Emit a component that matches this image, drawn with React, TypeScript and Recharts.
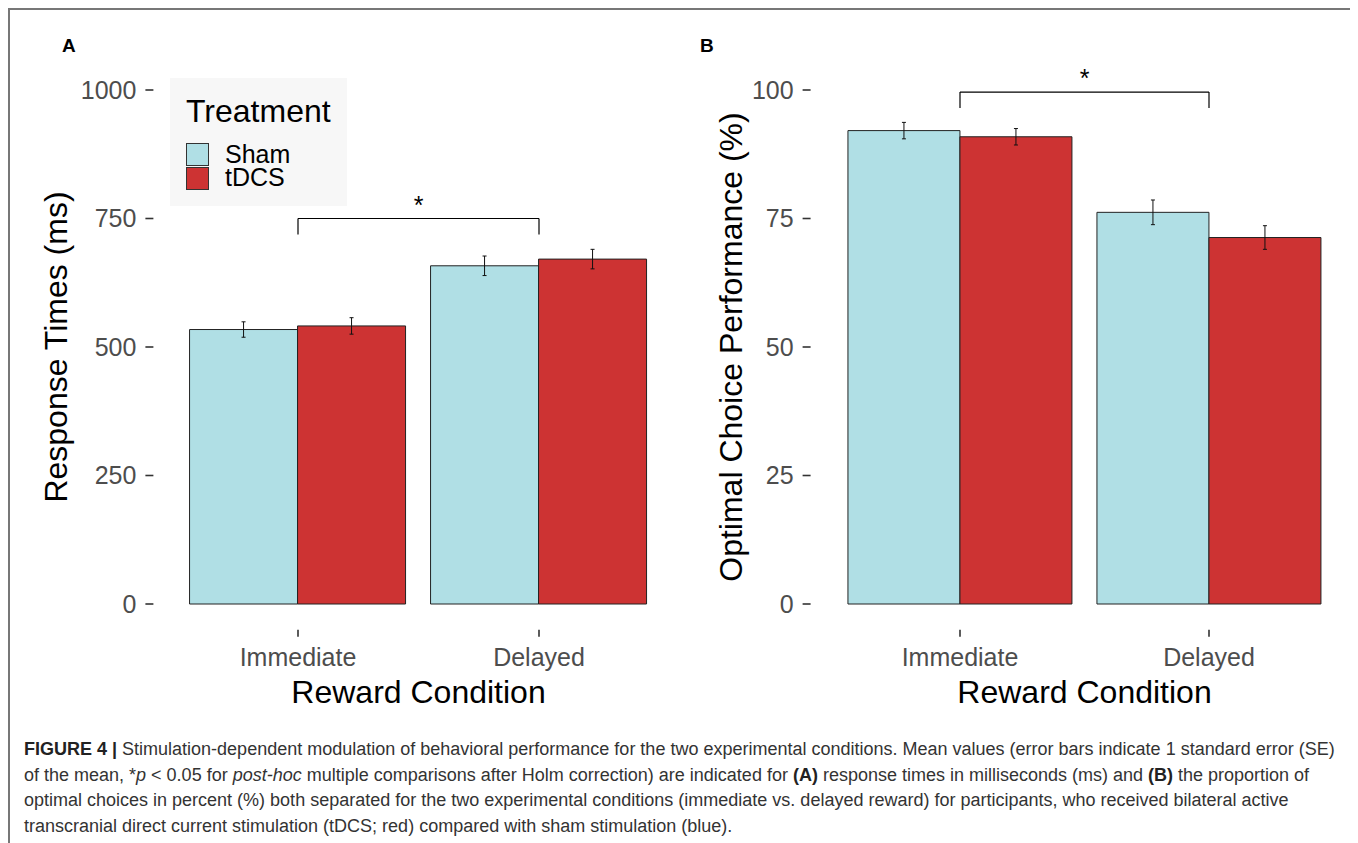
import React from "react";
import { BarChart, Bar, XAxis, YAxis, ErrorBar, ReferenceLine, Legend } from "recharts";

const categories = ["Immediate", "Delayed"];

// panel A: response times (ms)
const rtSham = [534, 658];
const rtShamSe = [15, 19];
const rtTdcs = [541, 671];
const rtTdcsSe = [16, 19];
const rtTicks = [0, 250, 500, 750, 1000];

// panel B: optimal choice performance (%)
const ocSham = [92.1, 76.2];
const ocShamSe = [1.6, 2.4];
const ocTdcs = [90.9, 71.3];
const ocTdcsSe = [1.6, 2.3];
const ocTicks = [0, 25, 50, 75, 100];

const SHAM = "#b0dfe5";
const TDCS = "#cd3333";
const FONT = "'Liberation Sans', Arial, Helvetica, sans-serif";

const rtData = categories.map((c, i) => ({
  condition: c,
  sham: rtSham[i],
  shamSe: rtShamSe[i],
  tdcs: rtTdcs[i],
  tdcsSe: rtTdcsSe[i],
}));

const ocData = categories.map((c, i) => ({
  condition: c,
  sham: ocSham[i],
  shamSe: ocShamSe[i],
  tdcs: ocTdcs[i],
  tdcsSe: ocTdcsSe[i],
}));

const tickStyle = { fill: "#4d4d4d", fontSize: 25, fontFamily: FONT };

const renderLegend = (props: any) => {
  const items = props.payload || [];
  return (
    <div style={{ position: "relative", width: 177, height: 128, background: "#f7f7f7", fontFamily: FONT }}>
      <div style={{ position: "absolute", left: 16, top: 15, fontSize: 32, lineHeight: "36px", color: "#000" }}>
        Treatment
      </div>
      {items.map((it: any, i: number) => (
        <div key={it.value}>
          <div
            style={{
              position: "absolute",
              left: 16,
              top: 65 + i * 24,
              width: 21,
              height: 21,
              background: it.color,
              border: "1px solid #333",
            }}
          />
          <div style={{ position: "absolute", left: 55, top: 65 + i * 23, fontSize: 25, lineHeight: "23px", color: "#000" }}>
            {it.value}
          </div>
        </div>
      ))}
    </div>
  );
};

function Panel(props: {
  data: any[];
  width: number;
  left: number;
  right: number;
  pad: number;
  domain: [number, number];
  ticks: number[];
  bracketY: number;
  bracketDrop: number;
  legend?: boolean;
}) {
  const { data, width, left, right, pad, domain, ticks, bracketY, bracketDrop, legend } = props;
  return (
    <BarChart
      width={width}
      height={720}
      data={data}
      margin={{ top: 56.3, right, bottom: 38.3, left }}
      barCategoryGap="5%"
      barGap={0}
    >
      <XAxis
        dataKey="condition"
        height={60}
        padding={{ left: pad, right: pad }}
        axisLine={false}
        tickSize={7}
        tickMargin={12}
        tickLine={{ stroke: "#333", strokeWidth: 1.6 }}
        tick={tickStyle}
      />
      <YAxis
        width={60}
        domain={domain}
        ticks={ticks}
        axisLine={false}
        tickSize={8}
        tickMargin={9}
        tickLine={{ stroke: "#333", strokeWidth: 1.6 }}
        tick={tickStyle}
      />
      {legend && (
        <Legend
          layout="vertical"
          align="center"
          verticalAlign="middle"
          content={renderLegend}
          wrapperStyle={{ left: 162, top: 70, width: 177, height: 128 }}
        />
      )}
      <Bar dataKey="sham" name="Sham" fill={SHAM} stroke="#222" strokeWidth={1} isAnimationActive={false}>
        <ErrorBar dataKey="shamSe" width={2} stroke="#111" strokeWidth={1} direction="y" />
      </Bar>
      <Bar dataKey="tdcs" name="tDCS" fill={TDCS} stroke="#222" strokeWidth={1} isAnimationActive={false}>
        <ErrorBar dataKey="tdcsSe" width={2} stroke="#111" strokeWidth={1} direction="y" />
      </Bar>
      <ReferenceLine
        segment={[
          { x: categories[0], y: bracketY },
          { x: categories[1], y: bracketY },
        ]}
        stroke="#000"
        strokeWidth={1.2}
        label={{ value: "*", position: "top", offset: 5, fontSize: 25, fill: "#000", fontFamily: FONT }}
      />
      <ReferenceLine
        segment={[
          { x: categories[0], y: bracketY },
          { x: categories[0], y: bracketY - bracketDrop },
        ]}
        stroke="#000"
        strokeWidth={1.2}
      />
      <ReferenceLine
        segment={[
          { x: categories[1], y: bracketY },
          { x: categories[1], y: bracketY - bracketDrop },
        ]}
        stroke="#000"
        strokeWidth={1.2}
      />
    </BarChart>
  );
}

const captionLines = [
  [
    { t: "FIGURE 4 |", b: true },
    { t: " Stimulation-dependent modulation of behavioral performance for the two experimental conditions. Mean values (error bars indicate 1 standard error (SE)" },
  ],
  [
    { t: "of the mean, *" },
    { t: "p", i: true },
    { t: " < 0.05 for " },
    { t: "post-hoc", i: true },
    { t: " multiple comparisons after Holm correction) are indicated for " },
    { t: "(A)", b: true },
    { t: " response times in milliseconds (ms) and " },
    { t: "(B)", b: true },
    { t: " the proportion of" },
  ],
  [
    { t: "optimal choices in percent (%) both separated for the two experimental conditions (immediate vs. delayed reward) for participants, who received bilateral active" },
  ],
  [{ t: "transcranial direct current stimulation (tDCS; red) compared with sham stimulation (blue)." }],
];

export default function App() {
  return (
    <div style={{ position: "relative", width: 1346, height: 835, overflow: "hidden", background: "#fff" }}>
      <div style={{ position: "absolute", left: 0, top: 0 }}>
        <Panel
          data={rtData}
          width={690}
          left={85.4}
          right={14.4}
          pad={24.1}
          domain={[-50, 1050]}
          ticks={rtTicks}
          bracketY={750}
          bracketDrop={31}
          legend
        />
      </div>
      <div style={{ position: "absolute", left: 690, top: 0 }}>
        <Panel
          data={ocData}
          width={662}
          left={52.6}
          right={1.6}
          pad={24.9}
          domain={[-5, 105]}
          ticks={ocTicks}
          bracketY={99.6}
          bracketDrop={3.1}
        />
      </div>
      <svg
        width={1346}
        height={835}
        style={{ position: "absolute", left: 0, top: 0, pointerEvents: "none" }}
        fontFamily={FONT}
      >
        <text x={54} y={44} fontSize={19} fontWeight="bold" fill="#000">A</text>
        <text x={692} y={44} fontSize={19} fontWeight="bold" fill="#000">B</text>
        <text x={59} y={339} fontSize={32} textAnchor="middle" fill="#000" transform="rotate(-90 59 339)">
          Response Times (ms)
        </text>
        <text x={734} y={339} fontSize={32} textAnchor="middle" fill="#000" transform="rotate(-90 734 339)">
          Optimal Choice Performance (%)
        </text>
        <text x={410.5} y={694.5} fontSize={32} textAnchor="middle" fill="#000">Reward Condition</text>
        <text x={1076.5} y={694.5} fontSize={32} textAnchor="middle" fill="#000">Reward Condition</text>
        {captionLines.map((parts, k) => (
          <text key={k} x={16} y={747 + k * 25.7} fontSize={18} fill="#333">
            {parts.map((p: any, j: number) => (
              <tspan key={j} fontWeight={p.b ? "bold" : "normal"} fontStyle={p.i ? "italic" : "normal"} fill={p.b ? "#222" : "#333"}>
                {p.t}
              </tspan>
            ))}
          </text>
        ))}
      </svg>
      <div
        style={{
          position: "absolute",
          left: 0,
          top: 0,
          width: 1346,
          height: 835,
          boxSizing: "border-box",
          borderTop: "2px solid #777",
          borderLeft: "2px solid #777",
          borderRight: "2px solid #777",
          pointerEvents: "none",
        }}
      />
    </div>
  );
}
